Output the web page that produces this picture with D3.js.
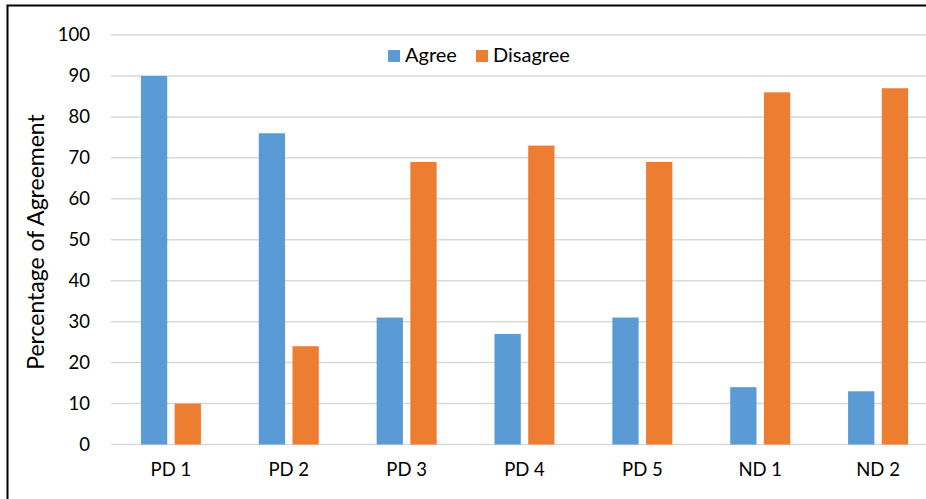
<!DOCTYPE html>
<html>
<head>
<meta charset="utf-8">
<script src="https://d3js.org/d3.v7.min.js"></script>
<style>
  body { margin: 0; background: #fff; }
  svg { display: block; font-family: Lato, "Liberation Sans", Arial, sans-serif; }
</style>
</head>
<body>
<svg id="chart" width="926" height="499"></svg>
<script>
const categories = ["PD 1", "PD 2", "PD 3", "PD 4", "PD 5", "ND 1", "ND 2"]
const seriesNames = ["Agree", "Disagree"]
const agreeValues = [90, 76, 31, 27, 31, 14, 13]
const disagreeValues = [10, 24, 69, 73, 69, 86, 87]
const yTicks = [0, 10, 20, 30, 40, 50, 60, 70, 80, 90, 100]
const colors = ["#5b9bd5", "#ed7d31"]

const rows = categories.map((c, i) => ({ name: c, Agree: agreeValues[i], Disagree: disagreeValues[i] }))

const FONT = "Lato, Liberation Sans, Arial, sans-serif"
const svg = d3.select("#chart")

// frame
svg.append("rect")
    .attr("x", 7.5).attr("y", 5.5)
    .attr("width", 940).attr("height", 520)
    .style("fill", "none")
    .style("stroke", "#000")
    .style("stroke-width", 2)

const x0 = d3.scaleBand().domain(categories).range([112, 937]).paddingInner(0).paddingOuter(0)
const x1 = d3.scaleBand().domain(seriesNames).range([x0.bandwidth() / 2 - 30, x0.bandwidth() / 2 + 30]).paddingInner(0.22)
const y = d3.scaleLinear().domain([0, 100]).range([444.5, 35])
const color = d3.scaleOrdinal().domain(seriesNames).range(colors)

// grid
svg.append("g")
    .selectAll("line")
    .data(yTicks)
    .join("line")
    .attr("x1", 111).attr("x2", 926)
    .attr("y1", d => y(d)).attr("y2", d => y(d))
    .style("stroke", "#d9d9d9")
    .style("stroke-width", 1.5)

// y axis labels
const yAxis = svg.append("g")
    .attr("transform", "translate(97, 0)")
    .call(d3.axisLeft(y).tickValues(yTicks).tickSize(0).tickPadding(7))
yAxis.select(".domain").remove()
yAxis.selectAll("text")
    .style("font-family", FONT)
    .style("font-size", "18.5px")
    .style("fill", "#000")

// x axis labels
const xAxis = svg.append("g")
    .attr("transform", "translate(0, 445)")
    .call(d3.axisBottom(x0).tickSize(0).tickPadding(18))
xAxis.select(".domain").remove()
xAxis.selectAll("text")
    .style("font-family", FONT)
    .style("font-size", "18.5px")
    .style("fill", "#000")

// bars
svg.append("g")
    .selectAll("g")
    .data(rows)
    .join("g")
    .attr("transform", d => `translate(${x0(d.name)}, 0)`)
    .selectAll("rect")
    .data(d => seriesNames.map(k => ({ key: k, value: d[k] })))
    .join("rect")
    .attr("x", d => x1(d.key))
    .attr("y", d => y(d.value))
    .attr("width", x1.bandwidth())
    .attr("height", d => y(0) - y(d.value))
    .style("fill", d => color(d.key))

// y title
svg.append("text")
    .attr("transform", "translate(44, 242) rotate(-90)")
    .attr("text-anchor", "middle")
    .text("Percentage of Agreement")
    .style("font-size", "23px")
    .style("fill", "#000")

// legend
const legend = svg.append("g")
    .selectAll("g")
    .data(seriesNames)
    .join("g")
    .attr("transform", (d, i) => `translate(${[388, 476][i]}, 50)`)
legend.append("rect")
    .attr("width", 12).attr("height", 12)
    .style("fill", d => color(d))
legend.append("text")
    .attr("x", 17).attr("y", 12)
    .text(d => d)
    .style("font-size", "20px")
    .style("fill", "#000")
</script>
</body>
</html>
